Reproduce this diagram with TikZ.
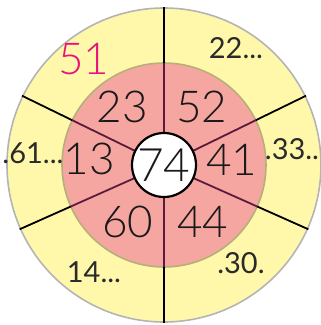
\documentclass[tikz,border=0pt]{standalone}
\usepackage{fontspec}
\setmainfont{Lato}
\newfontfamily\thinfont{Lato Light}
\usetikzlibrary{calc}
\definecolor{yel}{HTML}{FFF8AA}
\definecolor{outerrim}{HTML}{B4B4B4}
\definecolor{pinkfill}{HTML}{F6A6A0}
\definecolor{pinkrim}{HTML}{B5B07A}
\definecolor{maroon}{HTML}{5C1A3C}
\definecolor{mag}{HTML}{E8147D}
\definecolor{hand}{HTML}{2A2A2A}
\begin{document}
\begin{tikzpicture}[x=1pt,y=1pt,
  num/.style={font=\thinfont\fontsize{44}{44}\selectfont, text=black!90, inner sep=0pt},
  handw/.style={font=\fontsize{29}{29}\selectfont, text=hand, inner sep=0pt},
  ray/.style={line width=1.8pt, black},
  rayin/.style={line width=1.8pt, maroon}]
\useasboundingbox (0,0) rectangle (321,325);
\coordinate (O) at (164,160);
\fill[yel, draw=outerrim, line width=1.6pt] (O) circle[radius=157];
\fill[pinkfill, draw=pinkrim, line width=1.6pt] (O) circle[radius=102];
\foreach \a in {90,26,-24,-90,204,154}{
  \coordinate (p\a) at ($(O)+(\a:102)$);
  \coordinate (q\a) at ($(O)+(\a:158)$);
  \draw[ray] (p\a) -- (q\a);
  \draw[rayin] (O) -- (p\a);
}
\node[circle, draw=black, line width=2.2pt, fill=white, minimum size=64pt, inner sep=0pt,
      font=\thinfont\fontsize{46}{46}\selectfont, text=black!90] (c) at (O) {74};
\node[num] (n23) at (122.5,218) {23};
\node[num] (n52) at (202,218) {52};
\node[num] (n13) at (89,166) {13};
\node[num] (n41) at (232,165) {41};
\node[num] (n60) at (128,103) {60};
\node[num] (n44) at (203,103) {44};
\node[num, text=mag] (n51) at (84,266) {51};
\node[handw] (h22) at (236,277) {22...};
\node[handw] (h61) at (33,172) {.61...};
\node[handw] (h33) at (292,176) {.33..};
\node[handw] (h14) at (94,53) {14...};
\node[handw] (h30) at (241,62) {.30.};
\end{tikzpicture}
\end{document}
